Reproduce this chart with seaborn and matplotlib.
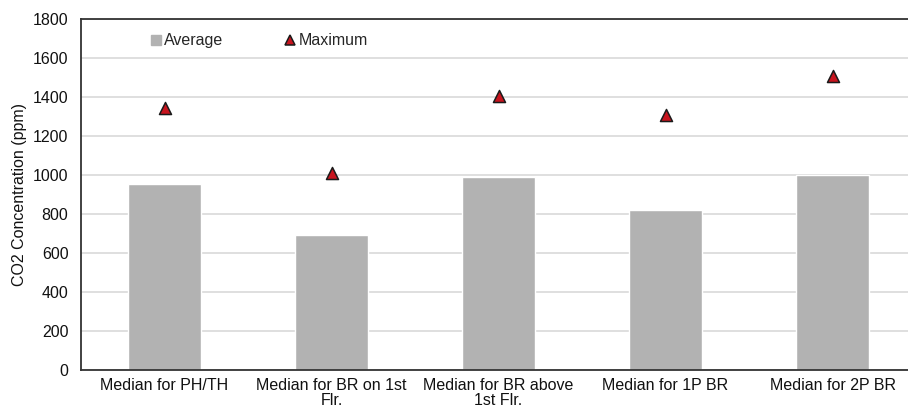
import matplotlib
matplotlib.use("Agg")
import matplotlib.pyplot as plt
from matplotlib.lines import Line2D
import seaborn as sns
import pandas as pd

categories = [
    "Median for PH/TH",
    "Median for BR on 1st\nFlr.",
    "Median for BR above\n1st Flr.",
    "Median for 1P BR",
    "Median for 2P BR",
]
average_ppm = [955, 692, 990, 822, 1002]
maximum_ppm = [1343, 1012, 1405, 1308, 1510]
y_ticks = [0, 200, 400, 600, 800, 1000, 1200, 1400, 1600, 1800]

df = pd.DataFrame({"category": categories, "average": average_ppm, "maximum": maximum_ppm})

sns.set_theme(style="white")
plt.rcParams["font.family"] = ["Liberation Sans", "DejaVu Sans"]

fig = plt.figure(figsize=(9.08, 4.12), dpi=100)
ax = fig.add_axes([81 / 908, 1 - 370 / 412, 835 / 908, 351 / 412])

bar_color = "#b2b2b2"
tri_color = "#c8141e"

sns.barplot(data=df, x="category", y="average", color=bar_color, width=0.44,
            saturation=1, ax=ax, zorder=2)
sns.scatterplot(data=df, x="category", y="maximum", marker="^", s=75,
                color=tri_color, edgecolor="#1a1a1a", linewidth=1.1, ax=ax, zorder=3)

ax.set_xlim(-0.5, len(categories) - 0.5)
ax.set_ylim(0, 1800)
ax.set_yticks(y_ticks)
ax.set_yticklabels([str(v) for v in y_ticks], fontsize=11.5, color="#111111")
ax.tick_params(axis="x", labelsize=11.5, length=0, pad=6, labelcolor="#111111")
ax.tick_params(axis="y", length=0, pad=9)
for lbl in ax.get_xticklabels():
    lbl.set_linespacing(0.95)

ax.grid(axis="y", color="#d9d9d9", linewidth=1.2, zorder=0)
ax.set_axisbelow(True)
ax.set_xlabel("")
ax.set_ylabel("CO2 Concentration (ppm)", fontsize=11.5, color="#111111", labelpad=4)

for side in ["left", "bottom", "top"]:
    ax.spines[side].set_color("#333333")
    ax.spines[side].set_linewidth(1.3)
ax.spines["right"].set_visible(False)

handles = [
    Line2D([0], [0], marker="s", linestyle="none", markersize=7,
           markerfacecolor=bar_color, markeredgecolor=bar_color),
    Line2D([0], [0], marker="^", linestyle="none", markersize=7,
           markerfacecolor=tri_color, markeredgecolor="#1a1a1a", markeredgewidth=1.1),
]
leg = ax.legend(handles, ["Average", "Maximum"], ncol=2, frameon=False,
                loc="upper left", bbox_to_anchor=(0.067, 1.0), fontsize=11.5,
                handlelength=0.6, handletextpad=0.2, columnspacing=3.9)

fig.savefig("out.png", dpi=100)
